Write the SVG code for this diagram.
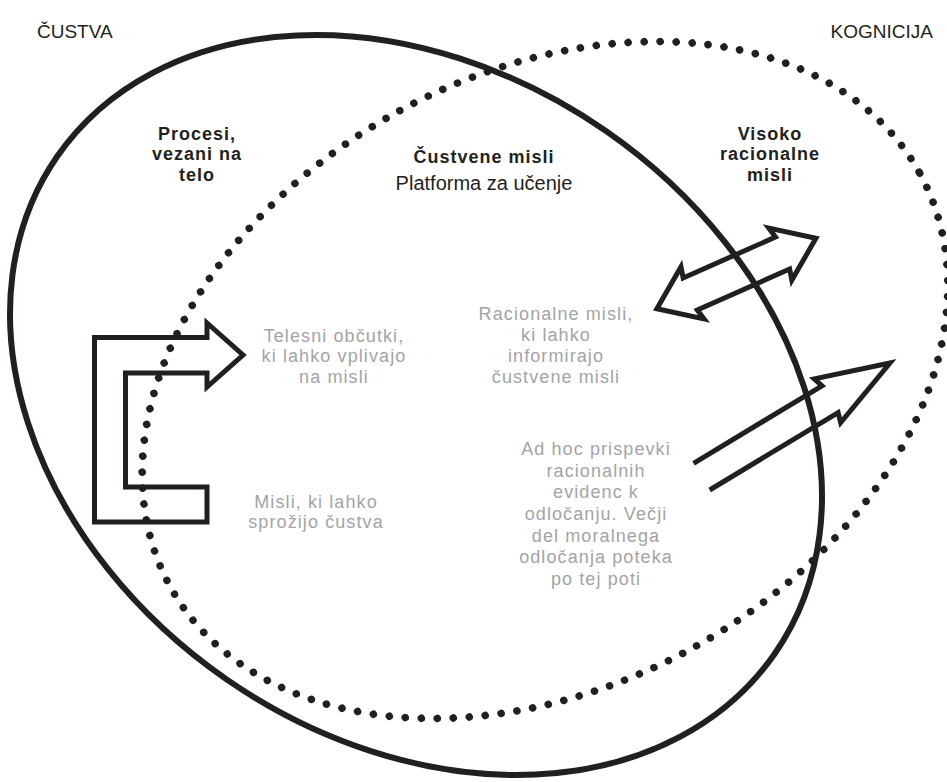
<svg xmlns="http://www.w3.org/2000/svg" width="947" height="782" viewBox="0 0 947 782">
  <style>
    .solid { fill: none; stroke: #231f20; stroke-width: 6; }
    .dotted { fill: none; stroke: #231f20; stroke-width: 7.5; stroke-linecap: round; stroke-dasharray: 0 16; }
    .arrow { fill: none; stroke: #231f20; stroke-width: 5; stroke-linejoin: miter; stroke-miterlimit: 10; }
    .corner { font-family: "Liberation Sans", Arial, sans-serif; font-size: 19px; fill: #231f20; }
    .title { font-family: "Liberation Sans", Arial, sans-serif; font-size: 18px; font-weight: bold; letter-spacing: 1px; fill: #231f20; text-anchor: middle; }
    .sub { font-family: "Liberation Sans", Arial, sans-serif; font-size: 20px; fill: #231f20; text-anchor: middle; }
    .note { font-family: "Liberation Sans", Arial, sans-serif; font-size: 18px; letter-spacing: 1.1px; fill: #a2a4a7; text-anchor: middle; }
  </style>
  <rect width="947" height="782" fill="#ffffff"/>

  <!-- the two overlapping regions -->
  <g id="region-custva">
    <ellipse class="solid" cx="0" cy="0" rx="436.5" ry="333.4" transform="translate(416 405) rotate(34.7)"/>
    <text class="corner" x="37" y="38">ČUSTVA</text>
  </g>
  <g id="region-kognicija">
    <ellipse class="dotted" cx="0" cy="0" rx="428" ry="306" transform="translate(545 380) rotate(-28.9)"/>
    <text class="corner" x="933" y="38" text-anchor="end">KOGNICIJA</text>
  </g>

  <!-- headings -->
  <g id="procesi">
    <text class="title" x="197" y="139.5">Procesi,</text>
    <text class="title" x="197" y="160">vezani na</text>
    <text class="title" x="197" y="180.5">telo</text>
  </g>
  <g id="custvene-misli">
    <text class="title" x="484" y="163">Čustvene misli</text>
    <text class="sub" x="484" y="190">Platforma za učenje</text>
  </g>
  <g id="visoko-racionalne">
    <text class="title" x="770" y="139.5">Visoko</text>
    <text class="title" x="770" y="160">racionalne</text>
    <text class="title" x="770" y="180.5">misli</text>
  </g>

  <!-- grey annotations -->
  <g id="telesni-obcutki">
    <text class="note" x="334" y="342">Telesni občutki,</text>
    <text class="note" x="334" y="362.3">ki lahko vplivajo</text>
    <text class="note" x="334" y="382.6">na misli</text>
  </g>
  <g id="misli-sprozijo">
    <text class="note" x="316" y="508">Misli, ki lahko</text>
    <text class="note" x="316" y="528.3">sprožijo čustva</text>
  </g>
  <g id="racionalne-misli">
    <text class="note" x="556" y="320">Racionalne misli,</text>
    <text class="note" x="556" y="341">ki lahko</text>
    <text class="note" x="556" y="362">informirajo</text>
    <text class="note" x="556" y="383">čustvene misli</text>
  </g>
  <g id="ad-hoc">
    <text class="note" x="596" y="455">Ad hoc prispevki</text>
    <text class="note" x="596" y="476.7">racionalnih</text>
    <text class="note" x="596" y="498.3">evidenc k</text>
    <text class="note" x="596" y="520">odločanju. Večji</text>
    <text class="note" x="596" y="541.7">del moralnega</text>
    <text class="note" x="596" y="563.3">odločanja poteka</text>
    <text class="note" x="596" y="585">po tej poti</text>
  </g>

  <!-- connectors -->
  <g id="connectors">
    <!-- loop from body processes back into thoughts -->
    <path class="arrow" d="M207,522 L94.5,522 L94.5,337.5 L207,337.5 L207,323 L243,355 L207,387 L207,373 L125.5,373 L125.5,487 L207,487 Z"/>
    <!-- two-way exchange between rational and emotional thoughts -->
    <path class="arrow" transform="translate(736.4 273.5) rotate(-23.9)" d="M87,0 L48,28.5 L50.5,17.5 L-50.5,17.5 L-48,28.5 L-87,0 L-48,-28.5 L-50.5,-17.5 L50.5,-17.5 L48,-28.5 Z"/>
    <!-- ad hoc contribution towards high rationality -->
    <path class="arrow" transform="translate(890 363) rotate(-31.1)" d="M-220,-15.6 L-70,-15.6 L-73,-25.5 L0,0 L-73,25.5 L-70,15.6 L-220,15.6"/>
  </g>
</svg>
